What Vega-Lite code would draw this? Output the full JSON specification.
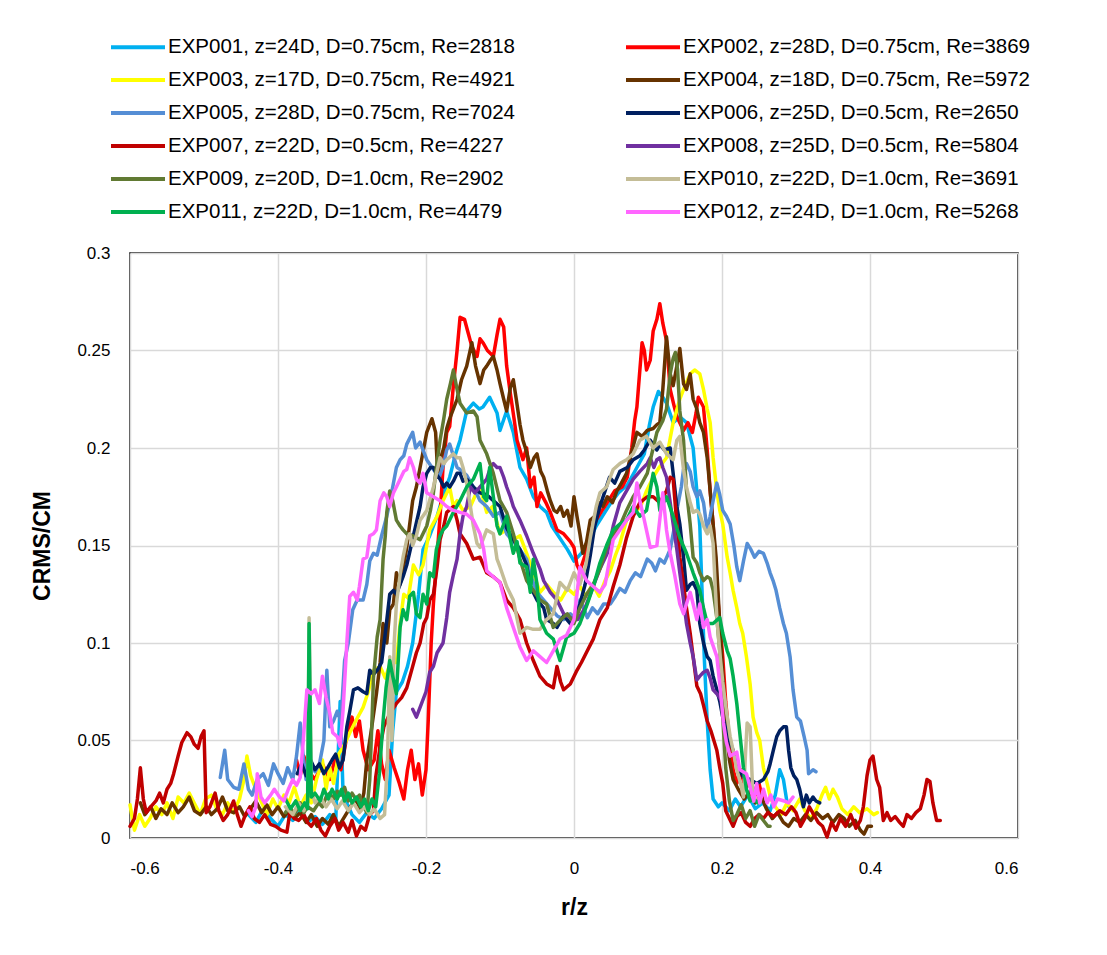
{
"$schema": "https://vega.github.io/schema/vega-lite/v6.json",
"width": 888, "height": 585,
"autosize": {"type": "none"},
"padding": {"left": 130, "top": 253, "right": 89, "bottom": 117},
"background": "white",
"datasets": {
"labels": [
{"s":"EXP001","label":"EXP001, z=24D, D=0.75cm, Re=2818"},
{"s":"EXP002","label":"EXP002, z=28D, D=0.75cm, Re=3869"},
{"s":"EXP003","label":"EXP003, z=17D, D=0.75cm, Re=4921"},
{"s":"EXP004","label":"EXP004, z=18D, D=0.75cm, Re=5972"},
{"s":"EXP005","label":"EXP005, z=28D, D=0.75cm, Re=7024"},
{"s":"EXP006","label":"EXP006, z=25D, D=0.5cm, Re=2650"},
{"s":"EXP007","label":"EXP007, z=22D, D=0.5cm, Re=4227"},
{"s":"EXP008","label":"EXP008, z=25D, D=0.5cm, Re=5804"},
{"s":"EXP009","label":"EXP009, z=20D, D=1.0cm, Re=2902"},
{"s":"EXP010","label":"EXP010, z=22D, D=1.0cm, Re=3691"},
{"s":"EXP011","label":"EXP011, z=22D, D=1.0cm, Re=4479"},
{"s":"EXP012","label":"EXP012, z=24D, D=1.0cm, Re=5268"}
],
"pts": [
{"s":"EXP001","r":-0.44,"c":0.012},{"s":"EXP001","r":-0.43,"c":0.008},{"s":"EXP001","r":-0.42,"c":0.015},{"s":"EXP001","r":-0.41,"c":0.01},{"s":"EXP001","r":-0.40,"c":0.006},{"s":"EXP001","r":-0.39,"c":0.012},{"s":"EXP001","r":-0.38,"c":0.009},{"s":"EXP001","r":-0.37,"c":0.014},{"s":"EXP001","r":-0.36,"c":0.008},{"s":"EXP001","r":-0.35,"c":0.011},{"s":"EXP001","r":-0.34,"c":0.007},{"s":"EXP001","r":-0.33,"c":0.012},{"s":"EXP001","r":-0.322,"c":0.009},{"s":"EXP001","r":-0.316,"c":0.07},{"s":"EXP001","r":-0.312,"c":0.022},{"s":"EXP001","r":-0.30,"c":0.012},{"s":"EXP001","r":-0.29,"c":0.008},{"s":"EXP001","r":-0.28,"c":0.013},{"s":"EXP001","r":-0.27,"c":0.01},{"s":"EXP001","r":-0.26,"c":0.015},{"s":"EXP001","r":-0.25,"c":0.022},{"s":"EXP001","r":-0.245,"c":0.055},{"s":"EXP001","r":-0.24,"c":0.075},{"s":"EXP001","r":-0.232,"c":0.08},{"s":"EXP001","r":-0.225,"c":0.088},{"s":"EXP001","r":-0.218,"c":0.1},{"s":"EXP001","r":-0.21,"c":0.125},{"s":"EXP001","r":-0.204,"c":0.148},{"s":"EXP001","r":-0.195,"c":0.155},{"s":"EXP001","r":-0.185,"c":0.165},{"s":"EXP001","r":-0.175,"c":0.178},{"s":"EXP001","r":-0.168,"c":0.185},{"s":"EXP001","r":-0.16,"c":0.197},{"s":"EXP001","r":-0.154,"c":0.204},{"s":"EXP001","r":-0.145,"c":0.219},{"s":"EXP001","r":-0.136,"c":0.223},{"s":"EXP001","r":-0.128,"c":0.22},{"s":"EXP001","r":-0.123,"c":0.221},{"s":"EXP001","r":-0.114,"c":0.226},{"s":"EXP001","r":-0.104,"c":0.218},{"s":"EXP001","r":-0.1,"c":0.209},{"s":"EXP001","r":-0.091,"c":0.219},{"s":"EXP001","r":-0.082,"c":0.208},{"s":"EXP001","r":-0.073,"c":0.19},{"s":"EXP001","r":-0.064,"c":0.184},{"s":"EXP001","r":-0.055,"c":0.175},{"s":"EXP001","r":-0.046,"c":0.17},{"s":"EXP001","r":-0.037,"c":0.167},{"s":"EXP001","r":-0.03,"c":0.16},{"s":"EXP001","r":-0.023,"c":0.156},{"s":"EXP001","r":-0.016,"c":0.152},{"s":"EXP001","r":-0.009,"c":0.148},{"s":"EXP001","r":0,"c":0.142},{"s":"EXP001","r":0.01,"c":0.146},{"s":"EXP001","r":0.02,"c":0.152},{"s":"EXP001","r":0.03,"c":0.16},{"s":"EXP001","r":0.04,"c":0.166},{"s":"EXP001","r":0.05,"c":0.172},{"s":"EXP001","r":0.06,"c":0.177},{"s":"EXP001","r":0.072,"c":0.181},{"s":"EXP001","r":0.085,"c":0.19},{"s":"EXP001","r":0.095,"c":0.197},{"s":"EXP001","r":0.102,"c":0.212},{"s":"EXP001","r":0.107,"c":0.221},{"s":"EXP001","r":0.114,"c":0.229},{"s":"EXP001","r":0.12,"c":0.226},{"s":"EXP001","r":0.125,"c":0.223},{"s":"EXP001","r":0.134,"c":0.213},{"s":"EXP001","r":0.143,"c":0.216},{"s":"EXP001","r":0.152,"c":0.213},{"s":"EXP001","r":0.161,"c":0.2},{"s":"EXP001","r":0.166,"c":0.178},{"s":"EXP001","r":0.17,"c":0.16},{"s":"EXP001","r":0.173,"c":0.127},{"s":"EXP001","r":0.176,"c":0.093},{"s":"EXP001","r":0.18,"c":0.06},{"s":"EXP001","r":0.184,"c":0.035},{"s":"EXP001","r":0.188,"c":0.02},{"s":"EXP001","r":0.195,"c":0.016},{"s":"EXP001","r":0.2,"c":0.018},{"s":"EXP001","r":0.21,"c":0.014},{"s":"EXP001","r":0.218,"c":0.02},{"s":"EXP001","r":0.225,"c":0.016},{"s":"EXP001","r":0.235,"c":0.022},{"s":"EXP001","r":0.245,"c":0.015},{"s":"EXP001","r":0.255,"c":0.018},{"s":"EXP001","r":0.265,"c":0.014},{"s":"EXP001","r":0.272,"c":0.022},{"s":"EXP001","r":0.278,"c":0.035},{"s":"EXP001","r":0.283,"c":0.03},{"s":"EXP001","r":0.288,"c":0.018},{"s":"EXP001","r":0.292,"c":0.015},
{"s":"EXP002","r":-0.375,"c":0.04},{"s":"EXP002","r":-0.37,"c":0.032},{"s":"EXP002","r":-0.365,"c":0.042},{"s":"EXP002","r":-0.36,"c":0.035},{"s":"EXP002","r":-0.35,"c":0.03},{"s":"EXP002","r":-0.34,"c":0.038},{"s":"EXP002","r":-0.33,"c":0.03},{"s":"EXP002","r":-0.322,"c":0.042},{"s":"EXP002","r":-0.315,"c":0.035},{"s":"EXP002","r":-0.308,"c":0.05},{"s":"EXP002","r":-0.3,"c":0.062},{"s":"EXP002","r":-0.295,"c":0.052},{"s":"EXP002","r":-0.29,"c":0.06},{"s":"EXP002","r":-0.285,"c":0.045},{"s":"EXP002","r":-0.278,"c":0.035},{"s":"EXP002","r":-0.27,"c":0.04},{"s":"EXP002","r":-0.265,"c":0.055},{"s":"EXP002","r":-0.26,"c":0.038},{"s":"EXP002","r":-0.255,"c":0.03},{"s":"EXP002","r":-0.25,"c":0.045},{"s":"EXP002","r":-0.243,"c":0.036},{"s":"EXP002","r":-0.236,"c":0.028},{"s":"EXP002","r":-0.23,"c":0.02},{"s":"EXP002","r":-0.225,"c":0.035},{"s":"EXP002","r":-0.22,"c":0.045},{"s":"EXP002","r":-0.215,"c":0.03},{"s":"EXP002","r":-0.21,"c":0.038},{"s":"EXP002","r":-0.205,"c":0.022},{"s":"EXP002","r":-0.2,"c":0.035},{"s":"EXP002","r":-0.197,"c":0.06},{"s":"EXP002","r":-0.193,"c":0.1},{"s":"EXP002","r":-0.19,"c":0.12},{"s":"EXP002","r":-0.186,"c":0.14},{"s":"EXP002","r":-0.181,"c":0.165},{"s":"EXP002","r":-0.177,"c":0.19},{"s":"EXP002","r":-0.172,"c":0.208},{"s":"EXP002","r":-0.168,"c":0.211},{"s":"EXP002","r":-0.163,"c":0.232},{"s":"EXP002","r":-0.158,"c":0.25},{"s":"EXP002","r":-0.154,"c":0.267},{"s":"EXP002","r":-0.148,"c":0.266},{"s":"EXP002","r":-0.143,"c":0.259},{"s":"EXP002","r":-0.138,"c":0.252},{"s":"EXP002","r":-0.131,"c":0.247},{"s":"EXP002","r":-0.127,"c":0.256},{"s":"EXP002","r":-0.123,"c":0.254},{"s":"EXP002","r":-0.117,"c":0.25},{"s":"EXP002","r":-0.109,"c":0.247},{"s":"EXP002","r":-0.104,"c":0.258},{"s":"EXP002","r":-0.1,"c":0.266},{"s":"EXP002","r":-0.095,"c":0.262},{"s":"EXP002","r":-0.091,"c":0.242},{"s":"EXP002","r":-0.086,"c":0.228},{"s":"EXP002","r":-0.081,"c":0.215},{"s":"EXP002","r":-0.077,"c":0.204},{"s":"EXP002","r":-0.069,"c":0.194},{"s":"EXP002","r":-0.064,"c":0.2},{"s":"EXP002","r":-0.059,"c":0.18},{"s":"EXP002","r":-0.054,"c":0.185},{"s":"EXP002","r":-0.05,"c":0.17},{"s":"EXP002","r":-0.045,"c":0.177},{"s":"EXP002","r":-0.038,"c":0.172},{"s":"EXP002","r":-0.032,"c":0.167},{"s":"EXP002","r":-0.023,"c":0.158},{"s":"EXP002","r":-0.014,"c":0.156},{"s":"EXP002","r":-0.005,"c":0.152},{"s":"EXP002","r":0,"c":0.149},{"s":"EXP002","r":0.004,"c":0.14},{"s":"EXP002","r":0.008,"c":0.137},{"s":"EXP002","r":0.015,"c":0.145},{"s":"EXP002","r":0.022,"c":0.155},{"s":"EXP002","r":0.03,"c":0.163},{"s":"EXP002","r":0.038,"c":0.168},{"s":"EXP002","r":0.045,"c":0.172},{"s":"EXP002","r":0.055,"c":0.178},{"s":"EXP002","r":0.065,"c":0.18},{"s":"EXP002","r":0.072,"c":0.185},{"s":"EXP002","r":0.078,"c":0.2},{"s":"EXP002","r":0.082,"c":0.214},{"s":"EXP002","r":0.085,"c":0.221},{"s":"EXP002","r":0.089,"c":0.24},{"s":"EXP002","r":0.092,"c":0.254},{"s":"EXP002","r":0.095,"c":0.25},{"s":"EXP002","r":0.098,"c":0.24},{"s":"EXP002","r":0.103,"c":0.245},{"s":"EXP002","r":0.107,"c":0.26},{"s":"EXP002","r":0.112,"c":0.266},{"s":"EXP002","r":0.116,"c":0.274},{"s":"EXP002","r":0.12,"c":0.264},{"s":"EXP002","r":0.125,"c":0.255},{"s":"EXP002","r":0.13,"c":0.23},{"s":"EXP002","r":0.135,"c":0.222},{"s":"EXP002","r":0.139,"c":0.216},{"s":"EXP002","r":0.148,"c":0.209},{"s":"EXP002","r":0.154,"c":0.213},{"s":"EXP002","r":0.16,"c":0.208},{"s":"EXP002","r":0.165,"c":0.218},{"s":"EXP002","r":0.168,"c":0.226},{"s":"EXP002","r":0.175,"c":0.221},{"s":"EXP002","r":0.18,"c":0.199},{"s":"EXP002","r":0.184,"c":0.178},{"s":"EXP002","r":0.188,"c":0.161},{"s":"EXP002","r":0.192,"c":0.135},{"s":"EXP002","r":0.197,"c":0.11},{"s":"EXP002","r":0.201,"c":0.093},{"s":"EXP002","r":0.205,"c":0.07},{"s":"EXP002","r":0.21,"c":0.05},{"s":"EXP002","r":0.215,"c":0.035},{"s":"EXP002","r":0.22,"c":0.028},{"s":"EXP002","r":0.225,"c":0.035},{"s":"EXP002","r":0.232,"c":0.025},{"s":"EXP002","r":0.238,"c":0.03},{"s":"EXP002","r":0.245,"c":0.022},{"s":"EXP002","r":0.25,"c":0.028},{"s":"EXP002","r":0.255,"c":0.02},
{"s":"EXP003","r":-0.6,"c":0.017},{"s":"EXP003","r":-0.594,"c":0.004},{"s":"EXP003","r":-0.587,"c":0.012},{"s":"EXP003","r":-0.58,"c":0.006},{"s":"EXP003","r":-0.573,"c":0.01},{"s":"EXP003","r":-0.565,"c":0.016},{"s":"EXP003","r":-0.557,"c":0.012},{"s":"EXP003","r":-0.55,"c":0.018},{"s":"EXP003","r":-0.542,"c":0.01},{"s":"EXP003","r":-0.535,"c":0.021},{"s":"EXP003","r":-0.527,"c":0.018},{"s":"EXP003","r":-0.52,"c":0.023},{"s":"EXP003","r":-0.512,"c":0.017},{"s":"EXP003","r":-0.505,"c":0.012},{"s":"EXP003","r":-0.498,"c":0.02},{"s":"EXP003","r":-0.49,"c":0.022},{"s":"EXP003","r":-0.483,"c":0.015},{"s":"EXP003","r":-0.475,"c":0.012},{"s":"EXP003","r":-0.468,"c":0.018},{"s":"EXP003","r":-0.46,"c":0.013},{"s":"EXP003","r":-0.452,"c":0.02},{"s":"EXP003","r":-0.446,"c":0.03},{"s":"EXP003","r":-0.442,"c":0.042},{"s":"EXP003","r":-0.437,"c":0.032},{"s":"EXP003","r":-0.43,"c":0.025},{"s":"EXP003","r":-0.422,"c":0.018},{"s":"EXP003","r":-0.415,"c":0.012},{"s":"EXP003","r":-0.407,"c":0.02},{"s":"EXP003","r":-0.4,"c":0.015},{"s":"EXP003","r":-0.392,"c":0.022},{"s":"EXP003","r":-0.385,"c":0.018},{"s":"EXP003","r":-0.378,"c":0.026},{"s":"EXP003","r":-0.37,"c":0.016},{"s":"EXP003","r":-0.362,"c":0.022},{"s":"EXP003","r":-0.355,"c":0.018},{"s":"EXP003","r":-0.348,"c":0.03},{"s":"EXP003","r":-0.34,"c":0.04},{"s":"EXP003","r":-0.335,"c":0.025},{"s":"EXP003","r":-0.33,"c":0.036},{"s":"EXP003","r":-0.325,"c":0.028},{"s":"EXP003","r":-0.318,"c":0.043},{"s":"EXP003","r":-0.31,"c":0.048},{"s":"EXP003","r":-0.303,"c":0.054},{"s":"EXP003","r":-0.295,"c":0.06},{"s":"EXP003","r":-0.285,"c":0.067},{"s":"EXP003","r":-0.278,"c":0.075},{"s":"EXP003","r":-0.271,"c":0.086},{"s":"EXP003","r":-0.262,"c":0.088},{"s":"EXP003","r":-0.255,"c":0.082},{"s":"EXP003","r":-0.248,"c":0.09},{"s":"EXP003","r":-0.24,"c":0.09},{"s":"EXP003","r":-0.235,"c":0.11},{"s":"EXP003","r":-0.23,"c":0.125},{"s":"EXP003","r":-0.224,"c":0.123},{"s":"EXP003","r":-0.217,"c":0.14},{"s":"EXP003","r":-0.21,"c":0.135},{"s":"EXP003","r":-0.204,"c":0.14},{"s":"EXP003","r":-0.195,"c":0.158},{"s":"EXP003","r":-0.185,"c":0.165},{"s":"EXP003","r":-0.177,"c":0.173},{"s":"EXP003","r":-0.168,"c":0.18},{"s":"EXP003","r":-0.163,"c":0.17},{"s":"EXP003","r":-0.158,"c":0.173},{"s":"EXP003","r":-0.15,"c":0.168},{"s":"EXP003","r":-0.14,"c":0.17},{"s":"EXP003","r":-0.133,"c":0.176},{"s":"EXP003","r":-0.127,"c":0.18},{"s":"EXP003","r":-0.118,"c":0.167},{"s":"EXP003","r":-0.11,"c":0.17},{"s":"EXP003","r":-0.1,"c":0.156},{"s":"EXP003","r":-0.091,"c":0.158},{"s":"EXP003","r":-0.082,"c":0.153},{"s":"EXP003","r":-0.073,"c":0.155},{"s":"EXP003","r":-0.064,"c":0.146},{"s":"EXP003","r":-0.055,"c":0.136},{"s":"EXP003","r":-0.046,"c":0.126},{"s":"EXP003","r":-0.037,"c":0.13},{"s":"EXP003","r":-0.028,"c":0.126},{"s":"EXP003","r":-0.018,"c":0.122},{"s":"EXP003","r":-0.009,"c":0.128},{"s":"EXP003","r":0,"c":0.125},{"s":"EXP003","r":0.008,"c":0.129},{"s":"EXP003","r":0.016,"c":0.124},{"s":"EXP003","r":0.025,"c":0.13},{"s":"EXP003","r":0.034,"c":0.124},{"s":"EXP003","r":0.042,"c":0.132},{"s":"EXP003","r":0.049,"c":0.137},{"s":"EXP003","r":0.056,"c":0.145},{"s":"EXP003","r":0.062,"c":0.151},{"s":"EXP003","r":0.071,"c":0.163},{"s":"EXP003","r":0.08,"c":0.166},{"s":"EXP003","r":0.09,"c":0.17},{"s":"EXP003","r":0.098,"c":0.178},{"s":"EXP003","r":0.107,"c":0.185},{"s":"EXP003","r":0.115,"c":0.19},{"s":"EXP003","r":0.125,"c":0.195},{"s":"EXP003","r":0.13,"c":0.205},{"s":"EXP003","r":0.134,"c":0.213},{"s":"EXP003","r":0.143,"c":0.225},{"s":"EXP003","r":0.15,"c":0.232},{"s":"EXP003","r":0.157,"c":0.238},{"s":"EXP003","r":0.163,"c":0.24},{"s":"EXP003","r":0.17,"c":0.238},{"s":"EXP003","r":0.175,"c":0.23},{"s":"EXP003","r":0.18,"c":0.22},{"s":"EXP003","r":0.184,"c":0.213},{"s":"EXP003","r":0.188,"c":0.195},{"s":"EXP003","r":0.193,"c":0.178},{"s":"EXP003","r":0.197,"c":0.168},{"s":"EXP003","r":0.201,"c":0.161},{"s":"EXP003","r":0.207,"c":0.144},{"s":"EXP003","r":0.211,"c":0.136},{"s":"EXP003","r":0.215,"c":0.127},{"s":"EXP003","r":0.22,"c":0.118},{"s":"EXP003","r":0.224,"c":0.11},{"s":"EXP003","r":0.228,"c":0.105},{"s":"EXP003","r":0.233,"c":0.093},{"s":"EXP003","r":0.238,"c":0.079},{"s":"EXP003","r":0.242,"c":0.062},{"s":"EXP003","r":0.247,"c":0.054},{"s":"EXP003","r":0.251,"c":0.05},{"s":"EXP003","r":0.256,"c":0.036},{"s":"EXP003","r":0.261,"c":0.028},{"s":"EXP003","r":0.266,"c":0.02},{"s":"EXP003","r":0.272,"c":0.016},{"s":"EXP003","r":0.28,"c":0.012},{"s":"EXP003","r":0.288,"c":0.018},{"s":"EXP003","r":0.296,"c":0.014},{"s":"EXP003","r":0.305,"c":0.02},{"s":"EXP003","r":0.312,"c":0.014},{"s":"EXP003","r":0.32,"c":0.01},{"s":"EXP003","r":0.328,"c":0.015},{"s":"EXP003","r":0.335,"c":0.022},{"s":"EXP003","r":0.34,"c":0.026},{"s":"EXP003","r":0.345,"c":0.02},{"s":"EXP003","r":0.35,"c":0.025},{"s":"EXP003","r":0.356,"c":0.021},{"s":"EXP003","r":0.362,"c":0.015},{"s":"EXP003","r":0.37,"c":0.012},{"s":"EXP003","r":0.378,"c":0.016},{"s":"EXP003","r":0.386,"c":0.013},{"s":"EXP003","r":0.396,"c":0.015},{"s":"EXP003","r":0.405,"c":0.012},{"s":"EXP003","r":0.41,"c":0.013},
{"s":"EXP004","r":-0.586,"c":0.018},{"s":"EXP004","r":-0.58,"c":0.012},{"s":"EXP004","r":-0.572,"c":0.016},{"s":"EXP004","r":-0.565,"c":0.01},{"s":"EXP004","r":-0.558,"c":0.015},{"s":"EXP004","r":-0.55,"c":0.012},{"s":"EXP004","r":-0.543,"c":0.018},{"s":"EXP004","r":-0.535,"c":0.013},{"s":"EXP004","r":-0.528,"c":0.016},{"s":"EXP004","r":-0.52,"c":0.021},{"s":"EXP004","r":-0.513,"c":0.014},{"s":"EXP004","r":-0.505,"c":0.012},{"s":"EXP004","r":-0.497,"c":0.016},{"s":"EXP004","r":-0.49,"c":0.012},{"s":"EXP004","r":-0.482,"c":0.015},{"s":"EXP004","r":-0.475,"c":0.021},{"s":"EXP004","r":-0.468,"c":0.014},{"s":"EXP004","r":-0.46,"c":0.013},{"s":"EXP004","r":-0.452,"c":0.016},{"s":"EXP004","r":-0.445,"c":0.011},{"s":"EXP004","r":-0.437,"c":0.015},{"s":"EXP004","r":-0.43,"c":0.019},{"s":"EXP004","r":-0.422,"c":0.013},{"s":"EXP004","r":-0.415,"c":0.017},{"s":"EXP004","r":-0.408,"c":0.012},{"s":"EXP004","r":-0.4,"c":0.016},{"s":"EXP004","r":-0.392,"c":0.011},{"s":"EXP004","r":-0.385,"c":0.014},{"s":"EXP004","r":-0.378,"c":0.01},{"s":"EXP004","r":-0.37,"c":0.013},{"s":"EXP004","r":-0.362,"c":0.008},{"s":"EXP004","r":-0.355,"c":0.012},{"s":"EXP004","r":-0.347,"c":0.006},{"s":"EXP004","r":-0.34,"c":0.01},{"s":"EXP004","r":-0.332,"c":0.007},{"s":"EXP004","r":-0.325,"c":0.012},{"s":"EXP004","r":-0.318,"c":0.006},{"s":"EXP004","r":-0.31,"c":0.011},{"s":"EXP004","r":-0.302,"c":0.016},{"s":"EXP004","r":-0.295,"c":0.02},{"s":"EXP004","r":-0.289,"c":0.015},{"s":"EXP004","r":-0.284,"c":0.023},{"s":"EXP004","r":-0.28,"c":0.04},{"s":"EXP004","r":-0.274,"c":0.055},{"s":"EXP004","r":-0.267,"c":0.074},{"s":"EXP004","r":-0.262,"c":0.09},{"s":"EXP004","r":-0.258,"c":0.11},{"s":"EXP004","r":-0.253,"c":0.1},{"s":"EXP004","r":-0.249,"c":0.117},{"s":"EXP004","r":-0.244,"c":0.12},{"s":"EXP004","r":-0.24,"c":0.136},{"s":"EXP004","r":-0.235,"c":0.13},{"s":"EXP004","r":-0.23,"c":0.14},{"s":"EXP004","r":-0.226,"c":0.149},{"s":"EXP004","r":-0.218,"c":0.173},{"s":"EXP004","r":-0.213,"c":0.18},{"s":"EXP004","r":-0.208,"c":0.19},{"s":"EXP004","r":-0.203,"c":0.2},{"s":"EXP004","r":-0.199,"c":0.208},{"s":"EXP004","r":-0.192,"c":0.215},{"s":"EXP004","r":-0.187,"c":0.208},{"s":"EXP004","r":-0.184,"c":0.185},{"s":"EXP004","r":-0.181,"c":0.194},{"s":"EXP004","r":-0.176,"c":0.2},{"s":"EXP004","r":-0.172,"c":0.21},{"s":"EXP004","r":-0.168,"c":0.215},{"s":"EXP004","r":-0.163,"c":0.22},{"s":"EXP004","r":-0.158,"c":0.225},{"s":"EXP004","r":-0.152,"c":0.235},{"s":"EXP004","r":-0.145,"c":0.242},{"s":"EXP004","r":-0.138,"c":0.254},{"s":"EXP004","r":-0.133,"c":0.242},{"s":"EXP004","r":-0.127,"c":0.233},{"s":"EXP004","r":-0.122,"c":0.24},{"s":"EXP004","r":-0.118,"c":0.242},{"s":"EXP004","r":-0.113,"c":0.245},{"s":"EXP004","r":-0.109,"c":0.247},{"s":"EXP004","r":-0.104,"c":0.24},{"s":"EXP004","r":-0.1,"c":0.233},{"s":"EXP004","r":-0.095,"c":0.225},{"s":"EXP004","r":-0.091,"c":0.219},{"s":"EXP004","r":-0.086,"c":0.231},{"s":"EXP004","r":-0.082,"c":0.235},{"s":"EXP004","r":-0.078,"c":0.225},{"s":"EXP004","r":-0.073,"c":0.212},{"s":"EXP004","r":-0.069,"c":0.204},{"s":"EXP004","r":-0.064,"c":0.198},{"s":"EXP004","r":-0.059,"c":0.19},{"s":"EXP004","r":-0.054,"c":0.195},{"s":"EXP004","r":-0.05,"c":0.197},{"s":"EXP004","r":-0.045,"c":0.188},{"s":"EXP004","r":-0.041,"c":0.185},{"s":"EXP004","r":-0.036,"c":0.178},{"s":"EXP004","r":-0.032,"c":0.173},{"s":"EXP004","r":-0.027,"c":0.168},{"s":"EXP004","r":-0.023,"c":0.167},{"s":"EXP004","r":-0.018,"c":0.17},{"s":"EXP004","r":-0.014,"c":0.165},{"s":"EXP004","r":-0.009,"c":0.168},{"s":"EXP004","r":-0.004,"c":0.16},{"s":"EXP004","r":0,"c":0.175},{"s":"EXP004","r":0.004,"c":0.165},{"s":"EXP004","r":0.008,"c":0.156},{"s":"EXP004","r":0.012,"c":0.146},{"s":"EXP004","r":0.017,"c":0.152},{"s":"EXP004","r":0.022,"c":0.163},{"s":"EXP004","r":0.028,"c":0.165},{"s":"EXP004","r":0.034,"c":0.172},{"s":"EXP004","r":0.039,"c":0.17},{"s":"EXP004","r":0.045,"c":0.175},{"s":"EXP004","r":0.052,"c":0.172},{"s":"EXP004","r":0.058,"c":0.178},{"s":"EXP004","r":0.064,"c":0.182},{"s":"EXP004","r":0.071,"c":0.187},{"s":"EXP004","r":0.078,"c":0.198},{"s":"EXP004","r":0.085,"c":0.208},{"s":"EXP004","r":0.092,"c":0.206},{"s":"EXP004","r":0.099,"c":0.209},{"s":"EXP004","r":0.107,"c":0.21},{"s":"EXP004","r":0.112,"c":0.212},{"s":"EXP004","r":0.116,"c":0.213},{"s":"EXP004","r":0.12,"c":0.23},{"s":"EXP004","r":0.125,"c":0.257},{"s":"EXP004","r":0.13,"c":0.238},{"s":"EXP004","r":0.134,"c":0.232},{"s":"EXP004","r":0.138,"c":0.24},{"s":"EXP004","r":0.143,"c":0.251},{"s":"EXP004","r":0.148,"c":0.233},{"s":"EXP004","r":0.152,"c":0.23},{"s":"EXP004","r":0.157,"c":0.238},{"s":"EXP004","r":0.161,"c":0.225},{"s":"EXP004","r":0.166,"c":0.22},{"s":"EXP004","r":0.17,"c":0.213},{"s":"EXP004","r":0.175,"c":0.208},{"s":"EXP004","r":0.18,"c":0.195},{"s":"EXP004","r":0.184,"c":0.178},{"s":"EXP004","r":0.188,"c":0.161},{"s":"EXP004","r":0.192,"c":0.144},{"s":"EXP004","r":0.197,"c":0.11},{"s":"EXP004","r":0.201,"c":0.085},{"s":"EXP004","r":0.205,"c":0.06},{"s":"EXP004","r":0.21,"c":0.04},{"s":"EXP004","r":0.215,"c":0.03},{"s":"EXP004","r":0.222,"c":0.025},{"s":"EXP004","r":0.23,"c":0.02},{"s":"EXP004","r":0.238,"c":0.024},{"s":"EXP004","r":0.245,"c":0.018},{"s":"EXP004","r":0.252,"c":0.022},{"s":"EXP004","r":0.26,"c":0.015},{"s":"EXP004","r":0.268,"c":0.01},{"s":"EXP004","r":0.275,"c":0.013},{"s":"EXP004","r":0.283,"c":0.008},{"s":"EXP004","r":0.29,"c":0.006},{"s":"EXP004","r":0.297,"c":0.01},{"s":"EXP004","r":0.305,"c":0.008},{"s":"EXP004","r":0.313,"c":0.012},{"s":"EXP004","r":0.32,"c":0.009},{"s":"EXP004","r":0.328,"c":0.013},{"s":"EXP004","r":0.336,"c":0.01},{"s":"EXP004","r":0.343,"c":0.012},{"s":"EXP004","r":0.35,"c":0.008},{"s":"EXP004","r":0.358,"c":0.012},{"s":"EXP004","r":0.365,"c":0.01},{"s":"EXP004","r":0.372,"c":0.006},{"s":"EXP004","r":0.38,"c":0.009},{"s":"EXP004","r":0.387,"c":0.004},{"s":"EXP004","r":0.392,"c":0.002},{"s":"EXP004","r":0.397,"c":0.006},{"s":"EXP004","r":0.402,"c":0.006},
{"s":"EXP005","r":-0.478,"c":0.031},{"s":"EXP005","r":-0.472,"c":0.045},{"s":"EXP005","r":-0.468,"c":0.03},{"s":"EXP005","r":-0.46,"c":0.026},{"s":"EXP005","r":-0.453,"c":0.025},{"s":"EXP005","r":-0.446,"c":0.038},{"s":"EXP005","r":-0.44,"c":0.025},{"s":"EXP005","r":-0.435,"c":0.022},{"s":"EXP005","r":-0.428,"c":0.03},{"s":"EXP005","r":-0.42,"c":0.033},{"s":"EXP005","r":-0.413,"c":0.027},{"s":"EXP005","r":-0.406,"c":0.038},{"s":"EXP005","r":-0.4,"c":0.033},{"s":"EXP005","r":-0.393,"c":0.028},{"s":"EXP005","r":-0.387,"c":0.036},{"s":"EXP005","r":-0.38,"c":0.03},{"s":"EXP005","r":-0.375,"c":0.042},{"s":"EXP005","r":-0.37,"c":0.059},{"s":"EXP005","r":-0.366,"c":0.042},{"s":"EXP005","r":-0.362,"c":0.03},{"s":"EXP005","r":-0.356,"c":0.038},{"s":"EXP005","r":-0.35,"c":0.034},{"s":"EXP005","r":-0.344,"c":0.038},{"s":"EXP005","r":-0.338,"c":0.05},{"s":"EXP005","r":-0.334,"c":0.086},{"s":"EXP005","r":-0.33,"c":0.057},{"s":"EXP005","r":-0.325,"c":0.06},{"s":"EXP005","r":-0.32,"c":0.065},{"s":"EXP005","r":-0.315,"c":0.06},{"s":"EXP005","r":-0.31,"c":0.091},{"s":"EXP005","r":-0.305,"c":0.1},{"s":"EXP005","r":-0.299,"c":0.117},{"s":"EXP005","r":-0.293,"c":0.122},{"s":"EXP005","r":-0.285,"c":0.122},{"s":"EXP005","r":-0.28,"c":0.13},{"s":"EXP005","r":-0.276,"c":0.142},{"s":"EXP005","r":-0.271,"c":0.146},{"s":"EXP005","r":-0.266,"c":0.145},{"s":"EXP005","r":-0.26,"c":0.155},{"s":"EXP005","r":-0.253,"c":0.165},{"s":"EXP005","r":-0.249,"c":0.172},{"s":"EXP005","r":-0.245,"c":0.18},{"s":"EXP005","r":-0.24,"c":0.19},{"s":"EXP005","r":-0.235,"c":0.194},{"s":"EXP005","r":-0.23,"c":0.196},{"s":"EXP005","r":-0.226,"c":0.202},{"s":"EXP005","r":-0.218,"c":0.208},{"s":"EXP005","r":-0.214,"c":0.2},{"s":"EXP005","r":-0.208,"c":0.203},{"s":"EXP005","r":-0.203,"c":0.198},{"s":"EXP005","r":-0.199,"c":0.194},{"s":"EXP005","r":-0.19,"c":0.189},{"s":"EXP005","r":-0.182,"c":0.185},{"s":"EXP005","r":-0.176,"c":0.192},{"s":"EXP005","r":-0.172,"c":0.199},{"s":"EXP005","r":-0.168,"c":0.202},{"s":"EXP005","r":-0.163,"c":0.196},{"s":"EXP005","r":-0.158,"c":0.19},{"s":"EXP005","r":-0.154,"c":0.189},{"s":"EXP005","r":-0.145,"c":0.186},{"s":"EXP005","r":-0.136,"c":0.18},{"s":"EXP005","r":-0.127,"c":0.173},{"s":"EXP005","r":-0.118,"c":0.17},{"s":"EXP005","r":-0.109,"c":0.165},{"s":"EXP005","r":-0.1,"c":0.167},{"s":"EXP005","r":-0.091,"c":0.156},{"s":"EXP005","r":-0.082,"c":0.152},{"s":"EXP005","r":-0.073,"c":0.148},{"s":"EXP005","r":-0.064,"c":0.143},{"s":"EXP005","r":-0.059,"c":0.135},{"s":"EXP005","r":-0.05,"c":0.126},{"s":"EXP005","r":-0.041,"c":0.122},{"s":"EXP005","r":-0.032,"c":0.118},{"s":"EXP005","r":-0.023,"c":0.114},{"s":"EXP005","r":-0.014,"c":0.112},{"s":"EXP005","r":-0.005,"c":0.115},{"s":"EXP005","r":0.003,"c":0.112},{"s":"EXP005","r":0.008,"c":0.122},{"s":"EXP005","r":0.013,"c":0.118},{"s":"EXP005","r":0.018,"c":0.113},{"s":"EXP005","r":0.025,"c":0.118},{"s":"EXP005","r":0.032,"c":0.115},{"s":"EXP005","r":0.04,"c":0.12},{"s":"EXP005","r":0.049,"c":0.12},{"s":"EXP005","r":0.056,"c":0.124},{"s":"EXP005","r":0.062,"c":0.128},{"s":"EXP005","r":0.069,"c":0.126},{"s":"EXP005","r":0.076,"c":0.132},{"s":"EXP005","r":0.083,"c":0.136},{"s":"EXP005","r":0.09,"c":0.134},{"s":"EXP005","r":0.099,"c":0.143},{"s":"EXP005","r":0.105,"c":0.141},{"s":"EXP005","r":0.11,"c":0.137},{"s":"EXP005","r":0.116,"c":0.143},{"s":"EXP005","r":0.122,"c":0.141},{"s":"EXP005","r":0.13,"c":0.148},{"s":"EXP005","r":0.136,"c":0.16},{"s":"EXP005","r":0.14,"c":0.17},{"s":"EXP005","r":0.145,"c":0.18},{"s":"EXP005","r":0.148,"c":0.189},{"s":"EXP005","r":0.152,"c":0.192},{"s":"EXP005","r":0.157,"c":0.188},{"s":"EXP005","r":0.161,"c":0.18},{"s":"EXP005","r":0.166,"c":0.175},{"s":"EXP005","r":0.17,"c":0.178},{"s":"EXP005","r":0.175,"c":0.172},{"s":"EXP005","r":0.18,"c":0.158},{"s":"EXP005","r":0.184,"c":0.165},{"s":"EXP005","r":0.188,"c":0.173},{"s":"EXP005","r":0.193,"c":0.182},{"s":"EXP005","r":0.197,"c":0.176},{"s":"EXP005","r":0.201,"c":0.168},{"s":"EXP005","r":0.206,"c":0.165},{"s":"EXP005","r":0.211,"c":0.161},{"s":"EXP005","r":0.216,"c":0.15},{"s":"EXP005","r":0.22,"c":0.139},{"s":"EXP005","r":0.224,"c":0.132},{"s":"EXP005","r":0.229,"c":0.142},{"s":"EXP005","r":0.234,"c":0.151},{"s":"EXP005","r":0.239,"c":0.148},{"s":"EXP005","r":0.244,"c":0.144},{"s":"EXP005","r":0.25,"c":0.147},{"s":"EXP005","r":0.256,"c":0.146},{"s":"EXP005","r":0.261,"c":0.141},{"s":"EXP005","r":0.265,"c":0.136},{"s":"EXP005","r":0.269,"c":0.132},{"s":"EXP005","r":0.273,"c":0.127},{"s":"EXP005","r":0.278,"c":0.118},{"s":"EXP005","r":0.283,"c":0.11},{"s":"EXP005","r":0.287,"c":0.105},{"s":"EXP005","r":0.292,"c":0.093},{"s":"EXP005","r":0.296,"c":0.076},{"s":"EXP005","r":0.301,"c":0.062},{"s":"EXP005","r":0.306,"c":0.06},{"s":"EXP005","r":0.311,"c":0.052},{"s":"EXP005","r":0.315,"c":0.045},{"s":"EXP005","r":0.317,"c":0.033},{"s":"EXP005","r":0.32,"c":0.034},{"s":"EXP005","r":0.323,"c":0.035},{"s":"EXP005","r":0.327,"c":0.034},
{"s":"EXP006","r":-0.374,"c":0.033},{"s":"EXP006","r":-0.368,"c":0.038},{"s":"EXP006","r":-0.362,"c":0.032},{"s":"EXP006","r":-0.356,"c":0.04},{"s":"EXP006","r":-0.35,"c":0.035},{"s":"EXP006","r":-0.344,"c":0.038},{"s":"EXP006","r":-0.338,"c":0.033},{"s":"EXP006","r":-0.333,"c":0.036},{"s":"EXP006","r":-0.327,"c":0.04},{"s":"EXP006","r":-0.322,"c":0.043},{"s":"EXP006","r":-0.317,"c":0.036},{"s":"EXP006","r":-0.312,"c":0.04},{"s":"EXP006","r":-0.307,"c":0.057},{"s":"EXP006","r":-0.303,"c":0.065},{"s":"EXP006","r":-0.298,"c":0.076},{"s":"EXP006","r":-0.292,"c":0.077},{"s":"EXP006","r":-0.285,"c":0.075},{"s":"EXP006","r":-0.28,"c":0.074},{"s":"EXP006","r":-0.276,"c":0.086},{"s":"EXP006","r":-0.271,"c":0.084},{"s":"EXP006","r":-0.266,"c":0.086},{"s":"EXP006","r":-0.26,"c":0.09},{"s":"EXP006","r":-0.255,"c":0.105},{"s":"EXP006","r":-0.249,"c":0.125},{"s":"EXP006","r":-0.244,"c":0.127},{"s":"EXP006","r":-0.24,"c":0.125},{"s":"EXP006","r":-0.235,"c":0.13},{"s":"EXP006","r":-0.231,"c":0.134},{"s":"EXP006","r":-0.226,"c":0.14},{"s":"EXP006","r":-0.22,"c":0.15},{"s":"EXP006","r":-0.214,"c":0.16},{"s":"EXP006","r":-0.208,"c":0.17},{"s":"EXP006","r":-0.204,"c":0.18},{"s":"EXP006","r":-0.199,"c":0.187},{"s":"EXP006","r":-0.194,"c":0.19},{"s":"EXP006","r":-0.19,"c":0.19},{"s":"EXP006","r":-0.185,"c":0.186},{"s":"EXP006","r":-0.181,"c":0.184},{"s":"EXP006","r":-0.176,"c":0.18},{"s":"EXP006","r":-0.172,"c":0.182},{"s":"EXP006","r":-0.168,"c":0.18},{"s":"EXP006","r":-0.163,"c":0.183},{"s":"EXP006","r":-0.158,"c":0.187},{"s":"EXP006","r":-0.154,"c":0.187},{"s":"EXP006","r":-0.15,"c":0.183},{"s":"EXP006","r":-0.145,"c":0.184},{"s":"EXP006","r":-0.136,"c":0.18},{"s":"EXP006","r":-0.127,"c":0.177},{"s":"EXP006","r":-0.118,"c":0.176},{"s":"EXP006","r":-0.109,"c":0.173},{"s":"EXP006","r":-0.1,"c":0.17},{"s":"EXP006","r":-0.091,"c":0.159},{"s":"EXP006","r":-0.082,"c":0.153},{"s":"EXP006","r":-0.073,"c":0.148},{"s":"EXP006","r":-0.064,"c":0.14},{"s":"EXP006","r":-0.059,"c":0.129},{"s":"EXP006","r":-0.05,"c":0.122},{"s":"EXP006","r":-0.041,"c":0.118},{"s":"EXP006","r":-0.037,"c":0.112},{"s":"EXP006","r":-0.028,"c":0.11},{"s":"EXP006","r":-0.023,"c":0.108},{"s":"EXP006","r":-0.014,"c":0.114},{"s":"EXP006","r":-0.005,"c":0.11},{"s":"EXP006","r":0,"c":0.112},{"s":"EXP006","r":0.008,"c":0.12},{"s":"EXP006","r":0.015,"c":0.13},{"s":"EXP006","r":0.022,"c":0.145},{"s":"EXP006","r":0.028,"c":0.16},{"s":"EXP006","r":0.035,"c":0.17},{"s":"EXP006","r":0.042,"c":0.178},{"s":"EXP006","r":0.048,"c":0.185},{"s":"EXP006","r":0.055,"c":0.182},{"s":"EXP006","r":0.062,"c":0.188},{"s":"EXP006","r":0.072,"c":0.19},{"s":"EXP006","r":0.08,"c":0.194},{"s":"EXP006","r":0.089,"c":0.196},{"s":"EXP006","r":0.095,"c":0.199},{"s":"EXP006","r":0.103,"c":0.204},{"s":"EXP006","r":0.112,"c":0.199},{"s":"EXP006","r":0.116,"c":0.202},{"s":"EXP006","r":0.122,"c":0.199},{"s":"EXP006","r":0.13,"c":0.2},{"s":"EXP006","r":0.134,"c":0.187},{"s":"EXP006","r":0.139,"c":0.17},{"s":"EXP006","r":0.143,"c":0.161},{"s":"EXP006","r":0.148,"c":0.144},{"s":"EXP006","r":0.152,"c":0.127},{"s":"EXP006","r":0.157,"c":0.13},{"s":"EXP006","r":0.161,"c":0.131},{"s":"EXP006","r":0.166,"c":0.127},{"s":"EXP006","r":0.17,"c":0.11},{"s":"EXP006","r":0.175,"c":0.1},{"s":"EXP006","r":0.18,"c":0.093},{"s":"EXP006","r":0.184,"c":0.091},{"s":"EXP006","r":0.188,"c":0.083},{"s":"EXP006","r":0.193,"c":0.076},{"s":"EXP006","r":0.197,"c":0.07},{"s":"EXP006","r":0.201,"c":0.062},{"s":"EXP006","r":0.208,"c":0.052},{"s":"EXP006","r":0.215,"c":0.045},{"s":"EXP006","r":0.222,"c":0.036},{"s":"EXP006","r":0.229,"c":0.031},{"s":"EXP006","r":0.238,"c":0.03},{"s":"EXP006","r":0.247,"c":0.028},{"s":"EXP006","r":0.256,"c":0.03},{"s":"EXP006","r":0.262,"c":0.034},{"s":"EXP006","r":0.265,"c":0.038},{"s":"EXP006","r":0.27,"c":0.046},{"s":"EXP006","r":0.274,"c":0.052},{"s":"EXP006","r":0.278,"c":0.055},{"s":"EXP006","r":0.283,"c":0.057},{"s":"EXP006","r":0.287,"c":0.057},{"s":"EXP006","r":0.29,"c":0.045},{"s":"EXP006","r":0.293,"c":0.036},{"s":"EXP006","r":0.297,"c":0.032},{"s":"EXP006","r":0.301,"c":0.03},{"s":"EXP006","r":0.305,"c":0.025},{"s":"EXP006","r":0.31,"c":0.016},{"s":"EXP006","r":0.314,"c":0.022},{"s":"EXP006","r":0.318,"c":0.018},{"s":"EXP006","r":0.323,"c":0.021},{"s":"EXP006","r":0.327,"c":0.019},{"s":"EXP006","r":0.332,"c":0.018},
{"s":"EXP007","r":-0.6,"c":0.006},{"s":"EXP007","r":-0.594,"c":0.01},{"s":"EXP007","r":-0.59,"c":0.02},{"s":"EXP007","r":-0.586,"c":0.036},{"s":"EXP007","r":-0.582,"c":0.02},{"s":"EXP007","r":-0.578,"c":0.013},{"s":"EXP007","r":-0.572,"c":0.016},{"s":"EXP007","r":-0.565,"c":0.019},{"s":"EXP007","r":-0.56,"c":0.023},{"s":"EXP007","r":-0.555,"c":0.018},{"s":"EXP007","r":-0.55,"c":0.025},{"s":"EXP007","r":-0.545,"c":0.028},{"s":"EXP007","r":-0.541,"c":0.033},{"s":"EXP007","r":-0.535,"c":0.042},{"s":"EXP007","r":-0.53,"c":0.049},{"s":"EXP007","r":-0.523,"c":0.054},{"s":"EXP007","r":-0.518,"c":0.052},{"s":"EXP007","r":-0.513,"c":0.048},{"s":"EXP007","r":-0.508,"c":0.046},{"s":"EXP007","r":-0.504,"c":0.052},{"s":"EXP007","r":-0.5,"c":0.055},{"s":"EXP007","r":-0.497,"c":0.013},{"s":"EXP007","r":-0.492,"c":0.016},{"s":"EXP007","r":-0.485,"c":0.023},{"s":"EXP007","r":-0.48,"c":0.014},{"s":"EXP007","r":-0.474,"c":0.009},{"s":"EXP007","r":-0.468,"c":0.012},{"s":"EXP007","r":-0.46,"c":0.019},{"s":"EXP007","r":-0.455,"c":0.012},{"s":"EXP007","r":-0.45,"c":0.006},{"s":"EXP007","r":-0.444,"c":0.012},{"s":"EXP007","r":-0.438,"c":0.016},{"s":"EXP007","r":-0.432,"c":0.01},{"s":"EXP007","r":-0.425,"c":0.008},{"s":"EXP007","r":-0.418,"c":0.012},{"s":"EXP007","r":-0.41,"c":0.007},{"s":"EXP007","r":-0.403,"c":0.006},{"s":"EXP007","r":-0.396,"c":0.004},{"s":"EXP007","r":-0.388,"c":0.003},{"s":"EXP007","r":-0.384,"c":0.013},{"s":"EXP007","r":-0.378,"c":0.01},{"s":"EXP007","r":-0.372,"c":0.009},{"s":"EXP007","r":-0.365,"c":0.012},{"s":"EXP007","r":-0.36,"c":0.008},{"s":"EXP007","r":-0.355,"c":0.006},{"s":"EXP007","r":-0.348,"c":0.01},{"s":"EXP007","r":-0.342,"c":0.004},{"s":"EXP007","r":-0.336,"c":0.001},{"s":"EXP007","r":-0.33,"c":0.006},{"s":"EXP007","r":-0.323,"c":0.01},{"s":"EXP007","r":-0.318,"c":0.004},{"s":"EXP007","r":-0.312,"c":0.008},{"s":"EXP007","r":-0.305,"c":0.003},{"s":"EXP007","r":-0.3,"c":0.009},{"s":"EXP007","r":-0.294,"c":0.001},{"s":"EXP007","r":-0.288,"c":0.006},{"s":"EXP007","r":-0.282,"c":0.004},{"s":"EXP007","r":-0.276,"c":0.012},{"s":"EXP007","r":-0.271,"c":0.014},{"s":"EXP007","r":-0.268,"c":0.031},{"s":"EXP007","r":-0.262,"c":0.047},{"s":"EXP007","r":-0.257,"c":0.057},{"s":"EXP007","r":-0.25,"c":0.063},{"s":"EXP007","r":-0.245,"c":0.066},{"s":"EXP007","r":-0.24,"c":0.069},{"s":"EXP007","r":-0.233,"c":0.072},{"s":"EXP007","r":-0.226,"c":0.077},{"s":"EXP007","r":-0.218,"c":0.088},{"s":"EXP007","r":-0.213,"c":0.095},{"s":"EXP007","r":-0.208,"c":0.1},{"s":"EXP007","r":-0.203,"c":0.11},{"s":"EXP007","r":-0.199,"c":0.113},{"s":"EXP007","r":-0.195,"c":0.122},{"s":"EXP007","r":-0.19,"c":0.125},{"s":"EXP007","r":-0.185,"c":0.139},{"s":"EXP007","r":-0.181,"c":0.153},{"s":"EXP007","r":-0.176,"c":0.16},{"s":"EXP007","r":-0.172,"c":0.167},{"s":"EXP007","r":-0.163,"c":0.17},{"s":"EXP007","r":-0.158,"c":0.163},{"s":"EXP007","r":-0.154,"c":0.156},{"s":"EXP007","r":-0.145,"c":0.151},{"s":"EXP007","r":-0.136,"c":0.143},{"s":"EXP007","r":-0.127,"c":0.144},{"s":"EXP007","r":-0.118,"c":0.136},{"s":"EXP007","r":-0.109,"c":0.134},{"s":"EXP007","r":-0.1,"c":0.131},{"s":"EXP007","r":-0.091,"c":0.122},{"s":"EXP007","r":-0.082,"c":0.118},{"s":"EXP007","r":-0.073,"c":0.112},{"s":"EXP007","r":-0.064,"c":0.1},{"s":"EXP007","r":-0.055,"c":0.091},{"s":"EXP007","r":-0.046,"c":0.083},{"s":"EXP007","r":-0.037,"c":0.079},{"s":"EXP007","r":-0.028,"c":0.077},{"s":"EXP007","r":-0.023,"c":0.088},{"s":"EXP007","r":-0.018,"c":0.08},{"s":"EXP007","r":-0.014,"c":0.076},{"s":"EXP007","r":-0.005,"c":0.079},{"s":"EXP007","r":0.004,"c":0.086},{"s":"EXP007","r":0.01,"c":0.09},{"s":"EXP007","r":0.018,"c":0.096},{"s":"EXP007","r":0.026,"c":0.102},{"s":"EXP007","r":0.035,"c":0.112},{"s":"EXP007","r":0.045,"c":0.118},{"s":"EXP007","r":0.053,"c":0.129},{"s":"EXP007","r":0.062,"c":0.14},{"s":"EXP007","r":0.071,"c":0.154},{"s":"EXP007","r":0.08,"c":0.165},{"s":"EXP007","r":0.089,"c":0.172},{"s":"EXP007","r":0.099,"c":0.175},{"s":"EXP007","r":0.107,"c":0.175},{"s":"EXP007","r":0.116,"c":0.172},{"s":"EXP007","r":0.125,"c":0.178},{"s":"EXP007","r":0.13,"c":0.185},{"s":"EXP007","r":0.134,"c":0.184},{"s":"EXP007","r":0.139,"c":0.161},{"s":"EXP007","r":0.143,"c":0.144},{"s":"EXP007","r":0.148,"c":0.13},{"s":"EXP007","r":0.152,"c":0.118},{"s":"EXP007","r":0.157,"c":0.105},{"s":"EXP007","r":0.161,"c":0.093},{"s":"EXP007","r":0.166,"c":0.078},{"s":"EXP007","r":0.171,"c":0.074},{"s":"EXP007","r":0.175,"c":0.068},{"s":"EXP007","r":0.18,"c":0.06},{"s":"EXP007","r":0.185,"c":0.055},{"s":"EXP007","r":0.189,"c":0.05},{"s":"EXP007","r":0.193,"c":0.045},{"s":"EXP007","r":0.197,"c":0.036},{"s":"EXP007","r":0.201,"c":0.028},{"s":"EXP007","r":0.205,"c":0.014},{"s":"EXP007","r":0.21,"c":0.01},{"s":"EXP007","r":0.215,"c":0.006},{"s":"EXP007","r":0.22,"c":0.011},{"s":"EXP007","r":0.226,"c":0.013},{"s":"EXP007","r":0.232,"c":0.008},{"s":"EXP007","r":0.238,"c":0.006},{"s":"EXP007","r":0.244,"c":0.01},{"s":"EXP007","r":0.25,"c":0.012},{"s":"EXP007","r":0.256,"c":0.01},{"s":"EXP007","r":0.262,"c":0.013},{"s":"EXP007","r":0.27,"c":0.011},{"s":"EXP007","r":0.278,"c":0.014},{"s":"EXP007","r":0.286,"c":0.012},{"s":"EXP007","r":0.294,"c":0.016},{"s":"EXP007","r":0.3,"c":0.013},{"s":"EXP007","r":0.306,"c":0.006},{"s":"EXP007","r":0.312,"c":0.01},{"s":"EXP007","r":0.318,"c":0.016},{"s":"EXP007","r":0.324,"c":0.012},{"s":"EXP007","r":0.33,"c":0.008},{"s":"EXP007","r":0.336,"c":0.006},{"s":"EXP007","r":0.342,"c":0.0005},{"s":"EXP007","r":0.348,"c":0.008},{"s":"EXP007","r":0.354,"c":0.004},{"s":"EXP007","r":0.36,"c":0.01},{"s":"EXP007","r":0.367,"c":0.006},{"s":"EXP007","r":0.374,"c":0.012},{"s":"EXP007","r":0.381,"c":0.005},{"s":"EXP007","r":0.387,"c":0.009},{"s":"EXP007","r":0.391,"c":0.016},{"s":"EXP007","r":0.396,"c":0.032},{"s":"EXP007","r":0.4,"c":0.04},{"s":"EXP007","r":0.404,"c":0.042},{"s":"EXP007","r":0.409,"c":0.03},{"s":"EXP007","r":0.413,"c":0.026},{"s":"EXP007","r":0.418,"c":0.009},{"s":"EXP007","r":0.423,"c":0.013},{"s":"EXP007","r":0.428,"c":0.009},{"s":"EXP007","r":0.434,"c":0.011},{"s":"EXP007","r":0.44,"c":0.008},{"s":"EXP007","r":0.445,"c":0.006},{"s":"EXP007","r":0.45,"c":0.012},{"s":"EXP007","r":0.456,"c":0.01},{"s":"EXP007","r":0.462,"c":0.013},{"s":"EXP007","r":0.468,"c":0.015},{"s":"EXP007","r":0.473,"c":0.022},{"s":"EXP007","r":0.477,"c":0.03},{"s":"EXP007","r":0.481,"c":0.029},{"s":"EXP007","r":0.485,"c":0.018},{"s":"EXP007","r":0.49,"c":0.009},{"s":"EXP007","r":0.495,"c":0.009},
{"s":"EXP008","r":-0.218,"c":0.066},{"s":"EXP008","r":-0.213,"c":0.062},{"s":"EXP008","r":-0.208,"c":0.067},{"s":"EXP008","r":-0.2,"c":0.075},{"s":"EXP008","r":-0.195,"c":0.085},{"s":"EXP008","r":-0.19,"c":0.088},{"s":"EXP008","r":-0.185,"c":0.095},{"s":"EXP008","r":-0.177,"c":0.1},{"s":"EXP008","r":-0.172,"c":0.113},{"s":"EXP008","r":-0.168,"c":0.126},{"s":"EXP008","r":-0.163,"c":0.135},{"s":"EXP008","r":-0.158,"c":0.143},{"s":"EXP008","r":-0.154,"c":0.156},{"s":"EXP008","r":-0.15,"c":0.165},{"s":"EXP008","r":-0.145,"c":0.17},{"s":"EXP008","r":-0.14,"c":0.18},{"s":"EXP008","r":-0.134,"c":0.177},{"s":"EXP008","r":-0.127,"c":0.18},{"s":"EXP008","r":-0.118,"c":0.184},{"s":"EXP008","r":-0.113,"c":0.19},{"s":"EXP008","r":-0.109,"c":0.192},{"s":"EXP008","r":-0.104,"c":0.19},{"s":"EXP008","r":-0.1,"c":0.19},{"s":"EXP008","r":-0.095,"c":0.185},{"s":"EXP008","r":-0.091,"c":0.18},{"s":"EXP008","r":-0.086,"c":0.175},{"s":"EXP008","r":-0.082,"c":0.17},{"s":"EXP008","r":-0.073,"c":0.163},{"s":"EXP008","r":-0.064,"c":0.155},{"s":"EXP008","r":-0.055,"c":0.146},{"s":"EXP008","r":-0.046,"c":0.138},{"s":"EXP008","r":-0.041,"c":0.132},{"s":"EXP008","r":-0.032,"c":0.126},{"s":"EXP008","r":-0.023,"c":0.122},{"s":"EXP008","r":-0.014,"c":0.115},{"s":"EXP008","r":-0.005,"c":0.113},{"s":"EXP008","r":0.005,"c":0.112},{"s":"EXP008","r":0.015,"c":0.118},{"s":"EXP008","r":0.026,"c":0.129},{"s":"EXP008","r":0.035,"c":0.138},{"s":"EXP008","r":0.045,"c":0.146},{"s":"EXP008","r":0.053,"c":0.16},{"s":"EXP008","r":0.062,"c":0.172},{"s":"EXP008","r":0.071,"c":0.178},{"s":"EXP008","r":0.08,"c":0.184},{"s":"EXP008","r":0.089,"c":0.188},{"s":"EXP008","r":0.099,"c":0.192},{"s":"EXP008","r":0.103,"c":0.195},{"s":"EXP008","r":0.108,"c":0.19},{"s":"EXP008","r":0.112,"c":0.194},{"s":"EXP008","r":0.116,"c":0.195},{"s":"EXP008","r":0.12,"c":0.19},{"s":"EXP008","r":0.125,"c":0.185},{"s":"EXP008","r":0.13,"c":0.172},{"s":"EXP008","r":0.134,"c":0.161},{"s":"EXP008","r":0.139,"c":0.148},{"s":"EXP008","r":0.143,"c":0.136},{"s":"EXP008","r":0.148,"c":0.122},{"s":"EXP008","r":0.152,"c":0.11},{"s":"EXP008","r":0.157,"c":0.1},{"s":"EXP008","r":0.161,"c":0.093},{"s":"EXP008","r":0.166,"c":0.081},{"s":"EXP008","r":0.17,"c":0.083},{"s":"EXP008","r":0.175,"c":0.085},{"s":"EXP008","r":0.18,"c":0.086},{"s":"EXP008","r":0.184,"c":0.082},{"s":"EXP008","r":0.188,"c":0.076},{"s":"EXP008","r":0.193,"c":0.074},{"s":"EXP008","r":0.197,"c":0.072},{"s":"EXP008","r":0.2,"c":0.07},
{"s":"EXP009","r":-0.39,"c":0.013},{"s":"EXP009","r":-0.384,"c":0.016},{"s":"EXP009","r":-0.378,"c":0.012},{"s":"EXP009","r":-0.37,"c":0.018},{"s":"EXP009","r":-0.365,"c":0.013},{"s":"EXP009","r":-0.36,"c":0.016},{"s":"EXP009","r":-0.352,"c":0.014},{"s":"EXP009","r":-0.345,"c":0.018},{"s":"EXP009","r":-0.34,"c":0.016},{"s":"EXP009","r":-0.335,"c":0.021},{"s":"EXP009","r":-0.33,"c":0.023},{"s":"EXP009","r":-0.325,"c":0.02},{"s":"EXP009","r":-0.32,"c":0.024},{"s":"EXP009","r":-0.315,"c":0.022},{"s":"EXP009","r":-0.31,"c":0.026},{"s":"EXP009","r":-0.305,"c":0.019},{"s":"EXP009","r":-0.3,"c":0.023},{"s":"EXP009","r":-0.295,"c":0.02},{"s":"EXP009","r":-0.29,"c":0.022},{"s":"EXP009","r":-0.285,"c":0.017},{"s":"EXP009","r":-0.28,"c":0.013},{"s":"EXP009","r":-0.276,"c":0.03},{"s":"EXP009","r":-0.273,"c":0.06},{"s":"EXP009","r":-0.271,"c":0.082},{"s":"EXP009","r":-0.266,"c":0.103},{"s":"EXP009","r":-0.262,"c":0.112},{"s":"EXP009","r":-0.258,"c":0.143},{"s":"EXP009","r":-0.255,"c":0.155},{"s":"EXP009","r":-0.253,"c":0.167},{"s":"EXP009","r":-0.249,"c":0.178},{"s":"EXP009","r":-0.245,"c":0.173},{"s":"EXP009","r":-0.24,"c":0.163},{"s":"EXP009","r":-0.235,"c":0.16},{"s":"EXP009","r":-0.231,"c":0.158},{"s":"EXP009","r":-0.226,"c":0.156},{"s":"EXP009","r":-0.218,"c":0.155},{"s":"EXP009","r":-0.208,"c":0.153},{"s":"EXP009","r":-0.199,"c":0.16},{"s":"EXP009","r":-0.194,"c":0.168},{"s":"EXP009","r":-0.19,"c":0.177},{"s":"EXP009","r":-0.186,"c":0.19},{"s":"EXP009","r":-0.181,"c":0.204},{"s":"EXP009","r":-0.176,"c":0.215},{"s":"EXP009","r":-0.172,"c":0.225},{"s":"EXP009","r":-0.167,"c":0.233},{"s":"EXP009","r":-0.163,"c":0.24},{"s":"EXP009","r":-0.158,"c":0.23},{"s":"EXP009","r":-0.154,"c":0.223},{"s":"EXP009","r":-0.145,"c":0.218},{"s":"EXP009","r":-0.136,"c":0.219},{"s":"EXP009","r":-0.131,"c":0.216},{"s":"EXP009","r":-0.127,"c":0.204},{"s":"EXP009","r":-0.118,"c":0.197},{"s":"EXP009","r":-0.109,"c":0.187},{"s":"EXP009","r":-0.1,"c":0.173},{"s":"EXP009","r":-0.091,"c":0.167},{"s":"EXP009","r":-0.082,"c":0.156},{"s":"EXP009","r":-0.073,"c":0.143},{"s":"EXP009","r":-0.064,"c":0.132},{"s":"EXP009","r":-0.055,"c":0.127},{"s":"EXP009","r":-0.046,"c":0.122},{"s":"EXP009","r":-0.037,"c":0.12},{"s":"EXP009","r":-0.028,"c":0.108},{"s":"EXP009","r":-0.018,"c":0.112},{"s":"EXP009","r":-0.009,"c":0.115},{"s":"EXP009","r":0,"c":0.11},{"s":"EXP009","r":0.008,"c":0.118},{"s":"EXP009","r":0.017,"c":0.125},{"s":"EXP009","r":0.026,"c":0.13},{"s":"EXP009","r":0.035,"c":0.138},{"s":"EXP009","r":0.045,"c":0.15},{"s":"EXP009","r":0.053,"c":0.155},{"s":"EXP009","r":0.062,"c":0.16},{"s":"EXP009","r":0.071,"c":0.168},{"s":"EXP009","r":0.08,"c":0.175},{"s":"EXP009","r":0.089,"c":0.18},{"s":"EXP009","r":0.099,"c":0.187},{"s":"EXP009","r":0.107,"c":0.2},{"s":"EXP009","r":0.112,"c":0.208},{"s":"EXP009","r":0.116,"c":0.211},{"s":"EXP009","r":0.12,"c":0.214},{"s":"EXP009","r":0.125,"c":0.22},{"s":"EXP009","r":0.13,"c":0.238},{"s":"EXP009","r":0.134,"c":0.246},{"s":"EXP009","r":0.137,"c":0.249},{"s":"EXP009","r":0.14,"c":0.24},{"s":"EXP009","r":0.143,"c":0.219},{"s":"EXP009","r":0.148,"c":0.204},{"s":"EXP009","r":0.152,"c":0.178},{"s":"EXP009","r":0.157,"c":0.161},{"s":"EXP009","r":0.161,"c":0.144},{"s":"EXP009","r":0.166,"c":0.141},{"s":"EXP009","r":0.17,"c":0.136},{"s":"EXP009","r":0.175,"c":0.132},{"s":"EXP009","r":0.18,"c":0.134},{"s":"EXP009","r":0.184,"c":0.133},{"s":"EXP009","r":0.188,"c":0.127},{"s":"EXP009","r":0.193,"c":0.113},{"s":"EXP009","r":0.197,"c":0.096},{"s":"EXP009","r":0.201,"c":0.062},{"s":"EXP009","r":0.205,"c":0.036},{"s":"EXP009","r":0.21,"c":0.019},{"s":"EXP009","r":0.215,"c":0.009},{"s":"EXP009","r":0.22,"c":0.012},{"s":"EXP009","r":0.226,"c":0.017},{"s":"EXP009","r":0.232,"c":0.01},{"s":"EXP009","r":0.238,"c":0.014},{"s":"EXP009","r":0.244,"c":0.006},{"s":"EXP009","r":0.25,"c":0.012},{"s":"EXP009","r":0.256,"c":0.009},{"s":"EXP009","r":0.262,"c":0.006},{"s":"EXP009","r":0.265,"c":0.006},
{"s":"EXP010","r":-0.39,"c":0.016},{"s":"EXP010","r":-0.38,"c":0.012},{"s":"EXP010","r":-0.372,"c":0.018},{"s":"EXP010","r":-0.365,"c":0.014},{"s":"EXP010","r":-0.36,"c":0.02},{"s":"EXP010","r":-0.358,"c":0.113},{"s":"EXP010","r":-0.355,"c":0.025},{"s":"EXP010","r":-0.35,"c":0.018},{"s":"EXP010","r":-0.343,"c":0.021},{"s":"EXP010","r":-0.335,"c":0.016},{"s":"EXP010","r":-0.328,"c":0.02},{"s":"EXP010","r":-0.32,"c":0.015},{"s":"EXP010","r":-0.313,"c":0.019},{"s":"EXP010","r":-0.305,"c":0.014},{"s":"EXP010","r":-0.298,"c":0.018},{"s":"EXP010","r":-0.29,"c":0.013},{"s":"EXP010","r":-0.283,"c":0.016},{"s":"EXP010","r":-0.276,"c":0.012},{"s":"EXP010","r":-0.27,"c":0.015},{"s":"EXP010","r":-0.262,"c":0.01},{"s":"EXP010","r":-0.256,"c":0.012},{"s":"EXP010","r":-0.252,"c":0.04},{"s":"EXP010","r":-0.249,"c":0.093},{"s":"EXP010","r":-0.246,"c":0.05},{"s":"EXP010","r":-0.243,"c":0.1},{"s":"EXP010","r":-0.24,"c":0.12},{"s":"EXP010","r":-0.235,"c":0.135},{"s":"EXP010","r":-0.231,"c":0.144},{"s":"EXP010","r":-0.226,"c":0.153},{"s":"EXP010","r":-0.222,"c":0.156},{"s":"EXP010","r":-0.218,"c":0.15},{"s":"EXP010","r":-0.213,"c":0.155},{"s":"EXP010","r":-0.208,"c":0.163},{"s":"EXP010","r":-0.199,"c":0.168},{"s":"EXP010","r":-0.19,"c":0.18},{"s":"EXP010","r":-0.181,"c":0.195},{"s":"EXP010","r":-0.176,"c":0.192},{"s":"EXP010","r":-0.172,"c":0.194},{"s":"EXP010","r":-0.163,"c":0.197},{"s":"EXP010","r":-0.158,"c":0.195},{"s":"EXP010","r":-0.154,"c":0.195},{"s":"EXP010","r":-0.15,"c":0.19},{"s":"EXP010","r":-0.145,"c":0.182},{"s":"EXP010","r":-0.14,"c":0.17},{"s":"EXP010","r":-0.136,"c":0.16},{"s":"EXP010","r":-0.131,"c":0.151},{"s":"EXP010","r":-0.127,"c":0.149},{"s":"EXP010","r":-0.118,"c":0.158},{"s":"EXP010","r":-0.109,"c":0.156},{"s":"EXP010","r":-0.104,"c":0.143},{"s":"EXP010","r":-0.1,"c":0.139},{"s":"EXP010","r":-0.091,"c":0.129},{"s":"EXP010","r":-0.082,"c":0.122},{"s":"EXP010","r":-0.073,"c":0.105},{"s":"EXP010","r":-0.064,"c":0.108},{"s":"EXP010","r":-0.055,"c":0.107},{"s":"EXP010","r":-0.046,"c":0.107},{"s":"EXP010","r":-0.037,"c":0.112},{"s":"EXP010","r":-0.028,"c":0.115},{"s":"EXP010","r":-0.019,"c":0.131},{"s":"EXP010","r":-0.009,"c":0.127},{"s":"EXP010","r":0,"c":0.136},{"s":"EXP010","r":0.008,"c":0.13},{"s":"EXP010","r":0.016,"c":0.14},{"s":"EXP010","r":0.022,"c":0.154},{"s":"EXP010","r":0.03,"c":0.17},{"s":"EXP010","r":0.035,"c":0.177},{"s":"EXP010","r":0.044,"c":0.18},{"s":"EXP010","r":0.053,"c":0.189},{"s":"EXP010","r":0.062,"c":0.192},{"s":"EXP010","r":0.071,"c":0.194},{"s":"EXP010","r":0.08,"c":0.197},{"s":"EXP010","r":0.089,"c":0.204},{"s":"EXP010","r":0.098,"c":0.206},{"s":"EXP010","r":0.107,"c":0.2},{"s":"EXP010","r":0.116,"c":0.203},{"s":"EXP010","r":0.125,"c":0.197},{"s":"EXP010","r":0.134,"c":0.194},{"s":"EXP010","r":0.139,"c":0.204},{"s":"EXP010","r":0.143,"c":0.206},{"s":"EXP010","r":0.148,"c":0.189},{"s":"EXP010","r":0.152,"c":0.18},{"s":"EXP010","r":0.157,"c":0.172},{"s":"EXP010","r":0.161,"c":0.167},{"s":"EXP010","r":0.166,"c":0.168},{"s":"EXP010","r":0.17,"c":0.166},{"s":"EXP010","r":0.175,"c":0.16},{"s":"EXP010","r":0.18,"c":0.156},{"s":"EXP010","r":0.184,"c":0.16},{"s":"EXP010","r":0.188,"c":0.151},{"s":"EXP010","r":0.193,"c":0.113},{"s":"EXP010","r":0.197,"c":0.095},{"s":"EXP010","r":0.201,"c":0.08},{"s":"EXP010","r":0.206,"c":0.065},{"s":"EXP010","r":0.211,"c":0.052},{"s":"EXP010","r":0.215,"c":0.045},{"s":"EXP010","r":0.22,"c":0.035},{"s":"EXP010","r":0.225,"c":0.028},{"s":"EXP010","r":0.229,"c":0.021},{"s":"EXP010","r":0.232,"c":0.045},{"s":"EXP010","r":0.234,"c":0.059},{"s":"EXP010","r":0.238,"c":0.057},{"s":"EXP010","r":0.242,"c":0.019},{"s":"EXP010","r":0.246,"c":0.02},
{"s":"EXP011","r":-0.39,"c":0.02},{"s":"EXP011","r":-0.383,"c":0.015},{"s":"EXP011","r":-0.376,"c":0.019},{"s":"EXP011","r":-0.37,"c":0.014},{"s":"EXP011","r":-0.364,"c":0.018},{"s":"EXP011","r":-0.36,"c":0.015},{"s":"EXP011","r":-0.358,"c":0.11},{"s":"EXP011","r":-0.355,"c":0.021},{"s":"EXP011","r":-0.35,"c":0.023},{"s":"EXP011","r":-0.343,"c":0.019},{"s":"EXP011","r":-0.338,"c":0.025},{"s":"EXP011","r":-0.332,"c":0.02},{"s":"EXP011","r":-0.327,"c":0.025},{"s":"EXP011","r":-0.32,"c":0.02},{"s":"EXP011","r":-0.314,"c":0.025},{"s":"EXP011","r":-0.31,"c":0.019},{"s":"EXP011","r":-0.305,"c":0.023},{"s":"EXP011","r":-0.3,"c":0.018},{"s":"EXP011","r":-0.294,"c":0.021},{"s":"EXP011","r":-0.288,"c":0.016},{"s":"EXP011","r":-0.283,"c":0.02},{"s":"EXP011","r":-0.278,"c":0.014},{"s":"EXP011","r":-0.273,"c":0.02},{"s":"EXP011","r":-0.268,"c":0.016},{"s":"EXP011","r":-0.263,"c":0.033},{"s":"EXP011","r":-0.258,"c":0.06},{"s":"EXP011","r":-0.254,"c":0.077},{"s":"EXP011","r":-0.249,"c":0.091},{"s":"EXP011","r":-0.245,"c":0.083},{"s":"EXP011","r":-0.24,"c":0.074},{"s":"EXP011","r":-0.235,"c":0.108},{"s":"EXP011","r":-0.231,"c":0.117},{"s":"EXP011","r":-0.226,"c":0.112},{"s":"EXP011","r":-0.222,"c":0.124},{"s":"EXP011","r":-0.217,"c":0.126},{"s":"EXP011","r":-0.213,"c":0.115},{"s":"EXP011","r":-0.208,"c":0.113},{"s":"EXP011","r":-0.204,"c":0.125},{"s":"EXP011","r":-0.199,"c":0.12},{"s":"EXP011","r":-0.195,"c":0.136},{"s":"EXP011","r":-0.19,"c":0.134},{"s":"EXP011","r":-0.186,"c":0.148},{"s":"EXP011","r":-0.181,"c":0.155},{"s":"EXP011","r":-0.177,"c":0.158},{"s":"EXP011","r":-0.172,"c":0.16},{"s":"EXP011","r":-0.163,"c":0.167},{"s":"EXP011","r":-0.154,"c":0.173},{"s":"EXP011","r":-0.145,"c":0.18},{"s":"EXP011","r":-0.136,"c":0.184},{"s":"EXP011","r":-0.127,"c":0.192},{"s":"EXP011","r":-0.122,"c":0.175},{"s":"EXP011","r":-0.118,"c":0.173},{"s":"EXP011","r":-0.114,"c":0.19},{"s":"EXP011","r":-0.109,"c":0.175},{"s":"EXP011","r":-0.104,"c":0.16},{"s":"EXP011","r":-0.1,"c":0.156},{"s":"EXP011","r":-0.091,"c":0.165},{"s":"EXP011","r":-0.086,"c":0.153},{"s":"EXP011","r":-0.082,"c":0.146},{"s":"EXP011","r":-0.077,"c":0.152},{"s":"EXP011","r":-0.073,"c":0.141},{"s":"EXP011","r":-0.064,"c":0.139},{"s":"EXP011","r":-0.059,"c":0.126},{"s":"EXP011","r":-0.055,"c":0.143},{"s":"EXP011","r":-0.05,"c":0.13},{"s":"EXP011","r":-0.046,"c":0.112},{"s":"EXP011","r":-0.037,"c":0.105},{"s":"EXP011","r":-0.028,"c":0.102},{"s":"EXP011","r":-0.019,"c":0.091},{"s":"EXP011","r":-0.01,"c":0.103},{"s":"EXP011","r":0,"c":0.105},{"s":"EXP011","r":0.008,"c":0.11},{"s":"EXP011","r":0.018,"c":0.12},{"s":"EXP011","r":0.027,"c":0.13},{"s":"EXP011","r":0.035,"c":0.141},{"s":"EXP011","r":0.044,"c":0.15},{"s":"EXP011","r":0.053,"c":0.158},{"s":"EXP011","r":0.062,"c":0.161},{"s":"EXP011","r":0.071,"c":0.163},{"s":"EXP011","r":0.08,"c":0.17},{"s":"EXP011","r":0.089,"c":0.165},{"s":"EXP011","r":0.098,"c":0.168},{"s":"EXP011","r":0.107,"c":0.187},{"s":"EXP011","r":0.112,"c":0.18},{"s":"EXP011","r":0.116,"c":0.168},{"s":"EXP011","r":0.125,"c":0.175},{"s":"EXP011","r":0.134,"c":0.165},{"s":"EXP011","r":0.143,"c":0.154},{"s":"EXP011","r":0.152,"c":0.146},{"s":"EXP011","r":0.161,"c":0.136},{"s":"EXP011","r":0.17,"c":0.127},{"s":"EXP011","r":0.175,"c":0.118},{"s":"EXP011","r":0.18,"c":0.11},{"s":"EXP011","r":0.188,"c":0.11},{"s":"EXP011","r":0.197,"c":0.113},{"s":"EXP011","r":0.201,"c":0.105},{"s":"EXP011","r":0.207,"c":0.096},{"s":"EXP011","r":0.211,"c":0.092},{"s":"EXP011","r":0.215,"c":0.083},{"s":"EXP011","r":0.22,"c":0.069},{"s":"EXP011","r":0.224,"c":0.054},{"s":"EXP011","r":0.229,"c":0.036},{"s":"EXP011","r":0.233,"c":0.025},{"s":"EXP011","r":0.238,"c":0.019},{"s":"EXP011","r":0.243,"c":0.02},{"s":"EXP011","r":0.248,"c":0.018},
{"s":"EXP012","r":-0.44,"c":0.014},{"s":"EXP012","r":-0.435,"c":0.011},{"s":"EXP012","r":-0.43,"c":0.016},{"s":"EXP012","r":-0.428,"c":0.033},{"s":"EXP012","r":-0.423,"c":0.021},{"s":"EXP012","r":-0.418,"c":0.018},{"s":"EXP012","r":-0.41,"c":0.022},{"s":"EXP012","r":-0.405,"c":0.025},{"s":"EXP012","r":-0.398,"c":0.021},{"s":"EXP012","r":-0.392,"c":0.019},{"s":"EXP012","r":-0.386,"c":0.025},{"s":"EXP012","r":-0.38,"c":0.03},{"s":"EXP012","r":-0.375,"c":0.027},{"s":"EXP012","r":-0.37,"c":0.031},{"s":"EXP012","r":-0.366,"c":0.049},{"s":"EXP012","r":-0.361,"c":0.076},{"s":"EXP012","r":-0.355,"c":0.074},{"s":"EXP012","r":-0.35,"c":0.076},{"s":"EXP012","r":-0.344,"c":0.069},{"s":"EXP012","r":-0.34,"c":0.083},{"s":"EXP012","r":-0.335,"c":0.072},{"s":"EXP012","r":-0.33,"c":0.064},{"s":"EXP012","r":-0.326,"c":0.054},{"s":"EXP012","r":-0.32,"c":0.052},{"s":"EXP012","r":-0.316,"c":0.047},{"s":"EXP012","r":-0.312,"c":0.066},{"s":"EXP012","r":-0.307,"c":0.1},{"s":"EXP012","r":-0.303,"c":0.124},{"s":"EXP012","r":-0.298,"c":0.126},{"s":"EXP012","r":-0.293,"c":0.122},{"s":"EXP012","r":-0.29,"c":0.129},{"s":"EXP012","r":-0.285,"c":0.143},{"s":"EXP012","r":-0.28,"c":0.144},{"s":"EXP012","r":-0.276,"c":0.155},{"s":"EXP012","r":-0.271,"c":0.156},{"s":"EXP012","r":-0.267,"c":0.158},{"s":"EXP012","r":-0.262,"c":0.173},{"s":"EXP012","r":-0.257,"c":0.177},{"s":"EXP012","r":-0.253,"c":0.175},{"s":"EXP012","r":-0.249,"c":0.17},{"s":"EXP012","r":-0.244,"c":0.177},{"s":"EXP012","r":-0.24,"c":0.18},{"s":"EXP012","r":-0.235,"c":0.184},{"s":"EXP012","r":-0.23,"c":0.188},{"s":"EXP012","r":-0.226,"c":0.189},{"s":"EXP012","r":-0.222,"c":0.195},{"s":"EXP012","r":-0.217,"c":0.19},{"s":"EXP012","r":-0.213,"c":0.184},{"s":"EXP012","r":-0.208,"c":0.182},{"s":"EXP012","r":-0.204,"c":0.187},{"s":"EXP012","r":-0.199,"c":0.177},{"s":"EXP012","r":-0.19,"c":0.175},{"s":"EXP012","r":-0.181,"c":0.173},{"s":"EXP012","r":-0.172,"c":0.17},{"s":"EXP012","r":-0.163,"c":0.168},{"s":"EXP012","r":-0.154,"c":0.167},{"s":"EXP012","r":-0.145,"c":0.166},{"s":"EXP012","r":-0.136,"c":0.163},{"s":"EXP012","r":-0.127,"c":0.156},{"s":"EXP012","r":-0.122,"c":0.148},{"s":"EXP012","r":-0.118,"c":0.137},{"s":"EXP012","r":-0.109,"c":0.134},{"s":"EXP012","r":-0.1,"c":0.131},{"s":"EXP012","r":-0.091,"c":0.118},{"s":"EXP012","r":-0.082,"c":0.108},{"s":"EXP012","r":-0.073,"c":0.098},{"s":"EXP012","r":-0.064,"c":0.091},{"s":"EXP012","r":-0.055,"c":0.096},{"s":"EXP012","r":-0.046,"c":0.093},{"s":"EXP012","r":-0.037,"c":0.09},{"s":"EXP012","r":-0.028,"c":0.096},{"s":"EXP012","r":-0.019,"c":0.102},{"s":"EXP012","r":-0.01,"c":0.104},{"s":"EXP012","r":0,"c":0.112},{"s":"EXP012","r":0.004,"c":0.125},{"s":"EXP012","r":0.008,"c":0.139},{"s":"EXP012","r":0.017,"c":0.132},{"s":"EXP012","r":0.026,"c":0.129},{"s":"EXP012","r":0.035,"c":0.126},{"s":"EXP012","r":0.042,"c":0.13},{"s":"EXP012","r":0.053,"c":0.153},{"s":"EXP012","r":0.062,"c":0.158},{"s":"EXP012","r":0.071,"c":0.163},{"s":"EXP012","r":0.08,"c":0.167},{"s":"EXP012","r":0.085,"c":0.182},{"s":"EXP012","r":0.089,"c":0.173},{"s":"EXP012","r":0.095,"c":0.163},{"s":"EXP012","r":0.103,"c":0.149},{"s":"EXP012","r":0.112,"c":0.15},{"s":"EXP012","r":0.12,"c":0.177},{"s":"EXP012","r":0.125,"c":0.158},{"s":"EXP012","r":0.13,"c":0.146},{"s":"EXP012","r":0.136,"c":0.135},{"s":"EXP012","r":0.143,"c":0.12},{"s":"EXP012","r":0.148,"c":0.115},{"s":"EXP012","r":0.152,"c":0.12},{"s":"EXP012","r":0.157,"c":0.126},{"s":"EXP012","r":0.161,"c":0.12},{"s":"EXP012","r":0.166,"c":0.112},{"s":"EXP012","r":0.17,"c":0.12},{"s":"EXP012","r":0.175,"c":0.108},{"s":"EXP012","r":0.18,"c":0.112},{"s":"EXP012","r":0.184,"c":0.103},{"s":"EXP012","r":0.193,"c":0.093},{"s":"EXP012","r":0.197,"c":0.079},{"s":"EXP012","r":0.202,"c":0.059},{"s":"EXP012","r":0.206,"c":0.049},{"s":"EXP012","r":0.211,"c":0.042},{"s":"EXP012","r":0.22,"c":0.044},{"s":"EXP012","r":0.224,"c":0.035},{"s":"EXP012","r":0.233,"c":0.033},{"s":"EXP012","r":0.238,"c":0.026},{"s":"EXP012","r":0.243,"c":0.019},{"s":"EXP012","r":0.247,"c":0.028},{"s":"EXP012","r":0.251,"c":0.018},{"s":"EXP012","r":0.256,"c":0.025},{"s":"EXP012","r":0.261,"c":0.018},{"s":"EXP012","r":0.266,"c":0.022},{"s":"EXP012","r":0.27,"c":0.016},{"s":"EXP012","r":0.275,"c":0.02},{"s":"EXP012","r":0.284,"c":0.019},{"s":"EXP012","r":0.29,"c":0.018},{"s":"EXP012","r":0.296,"c":0.021}
]
},
"data": {"name": "pts"},
"transform": [{"lookup": "s", "from": {"data": {"name": "labels"}, "key": "s", "fields": ["label"]}}],
"mark": {"type": "line", "strokeWidth": 3.5, "strokeJoin": "round", "strokeCap": "round"},
"encoding": {
"x": {"field": "r", "type": "quantitative", "scale": {"domain": [-0.6, 0.6], "nice": false},
 "axis": {"values": [-0.6, -0.4, -0.2, 0, 0.2, 0.4, 0.6], "labelExpr": "'' + round(datum.value*10)/10", "title": "r/z", "labelPadding": 22, "titlePadding": 20}},
"y": {"field": "c", "type": "quantitative", "scale": {"domain": [0, 0.3], "nice": false},
 "axis": {"values": [0, 0.05, 0.1, 0.15, 0.2, 0.25, 0.3], "labelExpr": "'' + round(datum.value*100)/100", "title": "CRMS/CM", "labelPadding": 20, "titlePadding": 22}},
"color": {"field": "label", "type": "nominal",
 "scale": {"domain": ["EXP001, z=24D, D=0.75cm, Re=2818","EXP003, z=17D, D=0.75cm, Re=4921","EXP005, z=28D, D=0.75cm, Re=7024","EXP007, z=22D, D=0.5cm, Re=4227","EXP009, z=20D, D=1.0cm, Re=2902","EXP011, z=22D, D=1.0cm, Re=4479","EXP002, z=28D, D=0.75cm, Re=3869","EXP004, z=18D, D=0.75cm, Re=5972","EXP006, z=25D, D=0.5cm, Re=2650","EXP008, z=25D, D=0.5cm, Re=5804","EXP010, z=22D, D=1.0cm, Re=3691","EXP012, z=24D, D=1.0cm, Re=5268"],
  "range": ["#00B0F0","#FFFF00","#558ED5","#C00000","#617A33","#00B050","#FF0000","#663300","#002060","#7030A0","#C4BD97","#FF66FF"]},
 "legend": {"orient": "none", "legendX": -4, "legendY": -218, "columns": 2, "title": null, "symbolType": "M-2.7,0H2.7", "symbolSize": 400, "symbolStrokeWidth": 4, "labelFontSize": 20.5, "labelOffset": 18, "rowPadding": 10, "columnPadding": 102, "labelLimit": 0, "padding": 0}}
},
"config": {
"font": "Liberation Sans",
"view": {"stroke": "#000000", "strokeWidth": 1.5},
"axis": {"grid": true, "gridColor": "#d9d9d9", "gridWidth": 1.5, "domain": false, "ticks": false, "labelFont": "Liberation Sans", "labelFontSize": 17, "labelColor": "#000000", "titleFont": "Liberation Sans", "titleFontSize": 23, "titleFontWeight": "bold", "titleColor": "#000000"},
"legend": {"labelFont": "Liberation Sans", "labelColor": "#000000"}
}
}
